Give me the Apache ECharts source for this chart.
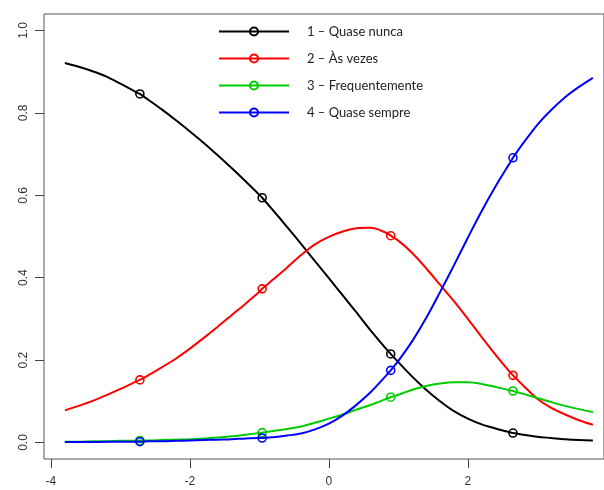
<!DOCTYPE html>
<html>
<head>
<meta charset="utf-8">
<script src="https://cdn.jsdelivr.net/npm/echarts@6/dist/echarts.min.js"></script>
<style>html,body{margin:0;padding:0;background:#fff}#c{width:604px;height:490px}</style>
</head>
<body>
<div id="c"></div>
<script>
var xs = [-3.8, -3.6, -3.4, -3.2, -3.0, -2.8, -2.72, -2.6, -2.4, -2.2, -2.0, -1.8, -1.6, -1.4, -1.2, -1.0, -0.96, -0.8, -0.6, -0.4, -0.2, 0.0, 0.2, 0.4, 0.6, 0.8, 0.89, 1.0, 1.2, 1.4, 1.6, 1.8, 2.0, 2.2, 2.4, 2.6, 2.65, 2.8, 3.0, 3.2, 3.4, 3.6, 3.8];
var markerXs = [-2.72, -0.96, 0.89, 2.65];
var quaseNunca     = [0.921, 0.912, 0.901, 0.888, 0.871, 0.853, 0.846, 0.832, 0.808, 0.782, 0.755, 0.727, 0.697, 0.666, 0.634, 0.601, 0.594, 0.563, 0.523, 0.482, 0.440, 0.399, 0.357, 0.315, 0.272, 0.232, 0.215, 0.195, 0.160, 0.128, 0.100, 0.076, 0.058, 0.044, 0.034, 0.025, 0.023, 0.019, 0.014, 0.011, 0.008, 0.006, 0.005];
var asVezes        = [0.078, 0.089, 0.101, 0.115, 0.130, 0.146, 0.152, 0.163, 0.183, 0.204, 0.228, 0.254, 0.281, 0.309, 0.337, 0.366, 0.373, 0.396, 0.425, 0.455, 0.481, 0.499, 0.512, 0.520, 0.521, 0.511, 0.502, 0.490, 0.460, 0.423, 0.383, 0.343, 0.300, 0.256, 0.213, 0.172, 0.163, 0.138, 0.106, 0.084, 0.068, 0.054, 0.043];
var frequentemente = [0.002, 0.002, 0.003, 0.003, 0.004, 0.004, 0.005, 0.005, 0.006, 0.007, 0.008, 0.010, 0.012, 0.015, 0.019, 0.023, 0.024, 0.028, 0.033, 0.039, 0.048, 0.058, 0.068, 0.080, 0.091, 0.104, 0.110, 0.116, 0.128, 0.137, 0.143, 0.146, 0.146, 0.142, 0.135, 0.127, 0.125, 0.118, 0.108, 0.098, 0.089, 0.081, 0.074];
var quaseSempre    = [0.001, 0.001, 0.001, 0.002, 0.002, 0.002, 0.002, 0.003, 0.003, 0.004, 0.005, 0.006, 0.007, 0.008, 0.010, 0.011, 0.011, 0.013, 0.017, 0.022, 0.032, 0.046, 0.066, 0.092, 0.122, 0.158, 0.175, 0.198, 0.246, 0.302, 0.365, 0.430, 0.497, 0.562, 0.622, 0.677, 0.691, 0.727, 0.771, 0.807, 0.838, 0.863, 0.885];
var seriesNames = ['1 \u2013 Quase nunca', '2 \u2013 \u00c0s vezes', '3 \u2013 Frequentemente', '4 \u2013 Quase sempre'];
var seriesColors = ['#000000', '#ff0000', '#00cc00', '#0000ff'];
var xTicks = [-4, -2, 0, 2, 4];
var yTicks = [0, 0.2, 0.4, 0.6, 0.8, 1.0];

var allValues = [quaseNunca, asVezes, frequentemente, quaseSempre];

function build(vals) {
  return xs.map(function (x, i) {
    return { value: [x, vals[i]], symbol: markerXs.indexOf(x) >= 0 ? 'circle' : 'none' };
  });
}

var series = allValues.map(function (vals, k) {
  return {
    name: seriesNames[k],
    type: 'line',
    smooth: 0.3,
    data: build(vals),
    symbol: 'circle',
    symbolSize: 8,
    color: seriesColors[k],
    lineStyle: { color: seriesColors[k], width: 2 },
    itemStyle: { color: 'rgba(255,255,255,0)', borderColor: seriesColors[k], borderWidth: 1.6 },
    emphasis: { disabled: true },
    animation: false,
    z: 2 + k
  };
});

var chart = echarts.init(document.getElementById('c'), null, { renderer: 'canvas' });
chart.setOption({
  backgroundColor: '#ffffff',
  animation: false,
  grid: { left: 44, right: 0, top: 14, bottom: 31, show: true, borderColor: '#555', borderWidth: 1, backgroundColor: 'transparent', containLabel: false },
  legend: {
    orient: 'vertical',
    left: 218,
    top: 25,
    padding: 0,
    itemWidth: 70,
    itemHeight: 10,
    itemGap: 14,
    textStyle: { fontFamily: 'Lato', fontSize: 13, color: '#222', padding: [0, 0, 0, 13] },
    data: seriesNames,
    selectedMode: false
  },
  xAxis: {
    type: 'value',
    min: -4.1,
    max: 3.96,
    splitLine: { show: false },
    axisLine: { show: false, onZero: false },
    axisTick: { show: true, length: 9, lineStyle: { color: '#444' }, customValues: xTicks },
    axisLabel: { customValues: xTicks, margin: 17, fontFamily: 'Liberation Sans', fontSize: 12, color: '#333' }
  },
  yAxis: {
    type: 'value',
    min: -0.04,
    max: 1.04,
    splitLine: { show: false },
    axisLine: { show: false, onZero: false },
    axisTick: { show: true, length: 9, lineStyle: { color: '#444' }, customValues: yTicks },
    axisLabel: { customValues: yTicks, rotate: 90, margin: 14, fontFamily: 'Liberation Sans', fontSize: 12, color: '#333',
      formatter: function (v) { return v.toFixed(1); } }
  },
  series: series
});
</script>
</body>
</html>
